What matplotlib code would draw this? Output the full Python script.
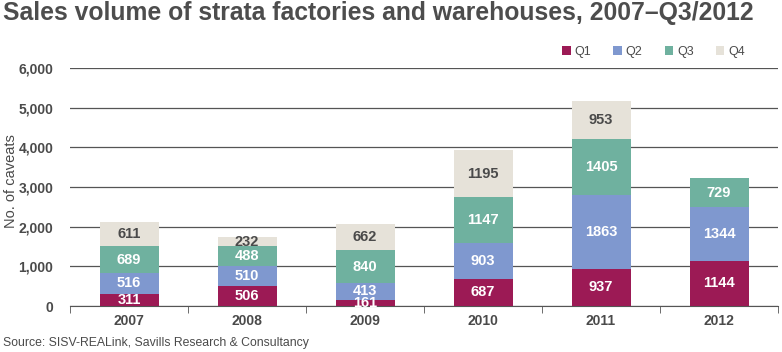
import matplotlib
matplotlib.use("Agg")
import matplotlib.pyplot as plt
import numpy as np

years = ["2007", "2008", "2009", "2010", "2011", "2012"]
q1 = [311, 506, 161, 687, 937, 1144]
q2 = [516, 510, 413, 903, 1863, 1344]
q3 = [689, 488, 840, 1147, 1405, 729]
q4 = [611, 232, 662, 1195, 953, 0]
series = {"Q1": q1, "Q2": q2, "Q3": q3, "Q4": q4}
colors = {"Q1": "#9c1a55", "Q2": "#7f98cf", "Q3": "#6fb19f", "Q4": "#e6e2d9"}
label_colors = {"Q1": "white", "Q2": "white", "Q3": "white", "Q4": "#4a4a4a"}

plt.rcParams['font.family'] = ['Liberation Sans', 'DejaVu Sans']

fig = plt.figure(figsize=(7.82, 3.52), dpi=100)
ax = fig.add_axes([70/782, 1 - 306/352, 708/782, 238/352])

x = np.arange(len(years))
bottom = np.zeros(len(years))
for name, vals in series.items():
    vals = np.array(vals, dtype=float)
    ax.bar(x, vals, bottom=bottom, width=0.5, color=colors[name], label=name, zorder=3)
    for xi, b, v in zip(x, bottom, vals):
        if v > 0:
            ax.text(xi, b + v / 2, str(int(v)), ha="center", va="center",
                    color=label_colors[name], fontsize=10.5, fontweight="bold", zorder=4)
    bottom += vals

ax.set_xlim(-0.5, len(years) - 0.5)
ax.set_ylim(0, 6000)
ax.set_yticks(range(0, 6001, 1000))
ax.set_yticklabels([f"{v:,}" for v in range(0, 6001, 1000)])
ax.yaxis.grid(True, color="#555555", linewidth=0.9, zorder=0)
ax.set_axisbelow(True)
for s in ["top", "right", "left"]:
    ax.spines[s].set_visible(False)
ax.spines["bottom"].set_color("#555555")
ax.tick_params(axis="y", length=0, pad=12, labelsize=10, labelcolor="#4a4a4a")
for lbl in ax.get_yticklabels():
    lbl.set_fontweight("bold")
ax.set_xticks(x)
ax.set_xticklabels(years, fontsize=10, fontweight="bold", color="#4a4a4a")
ax.tick_params(axis="x", length=0, pad=6)
ax.set_xticks(np.arange(-0.5, len(years), 1.0), minor=True)
ax.tick_params(axis="x", which="minor", length=5, color="#555555", direction="out")
ax.set_ylabel("No. of caveats", fontsize=10.5, color="#4a4a4a")
ax.yaxis.set_label_coords(-52/708, (306 - 181) / 238)

fig.text(3/782, 1 - 13/352, "Sales volume of strata factories and warehouses, 2007\u2013Q3/2012",
         fontsize=17.8, fontweight="bold", color="#4d4d4d", va="center", ha="left")
fig.text(3/782, 1 - 343/352, "Source: SISV-REALink, Savills Research & Consultancy",
         fontsize=8.8, color="#4a4a4a", va="center", ha="left")

leg = fig.legend(loc="center right", bbox_to_anchor=(756/782, 1 - 52/352), ncol=4, frameon=False,
                 fontsize=9, handlelength=0.7, handleheight=0.7, handletextpad=0.3,
                 columnspacing=1.75, labelcolor="#4a4a4a")

fig.savefig("out.png", dpi=100)
